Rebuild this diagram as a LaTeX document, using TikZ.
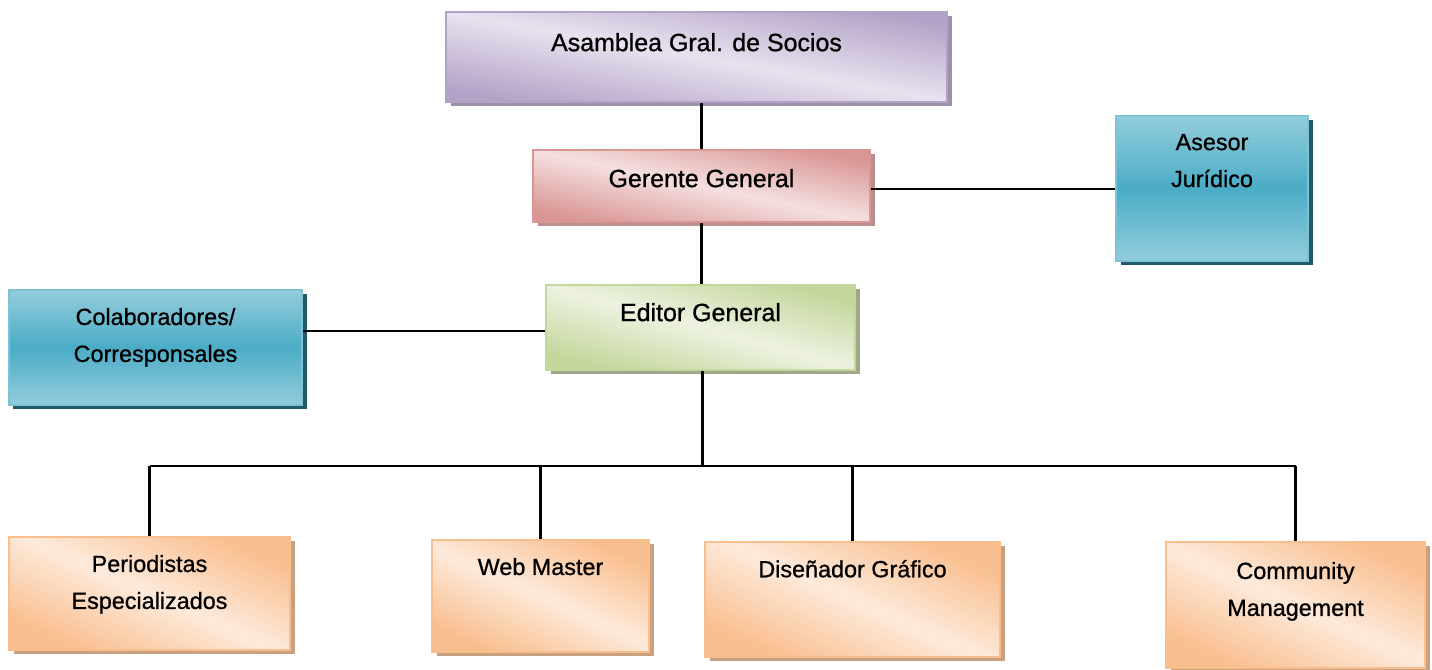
\documentclass[tikz,border=0pt]{standalone}
\usepackage{fontspec}
\setmainfont{Liberation Sans}[FakeBold=0.9]
\usetikzlibrary{shadows}

\definecolor{lilaoscuro}{HTML}{B3A2C7}
\definecolor{lilaclaro}{HTML}{E8E2EF}
\definecolor{lilasombra}{HTML}{9C90AA}
\definecolor{rosaoscuro}{HTML}{D99694}
\definecolor{rosaclaro}{HTML}{F4E0DF}
\definecolor{rosasombra}{HTML}{BC8E8D}
\definecolor{verdeoscuro}{HTML}{C3D69B}
\definecolor{verdeclaro}{HTML}{EDF2E0}
\definecolor{verdesombra}{HTML}{A0A68A}
\definecolor{naranjaoscuro}{HTML}{F9BE8E}
\definecolor{naranjaclaro}{HTML}{FDEADB}
\definecolor{naranjasombra}{HTML}{C9A080}
\definecolor{azulclaro}{HTML}{93CDDD}
\definecolor{azulmedio}{HTML}{4BACC6}
\definecolor{azulsombra}{HTML}{235A6A}

\begin{document}
\begin{tikzpicture}[
  box/.style={rectangle, line width=0.9pt, inner sep=0pt},
  boxtext/.style={anchor=north, align=center, inner sep=0pt, yshift=-0.37cm,
    font=\fontsize{13.3}{21}\selectfont},
  bigtext/.style={boxtext, font=\fontsize{14.2}{21}\selectfont},
  lilabox/.style={box, draw=lilaoscuro, top color=lilaoscuro, bottom color=lilaoscuro,
    middle color=lilaclaro, shading angle=-10,
    general shadow={fill=lilasombra, shadow xshift=0.09cm, shadow yshift=-0.09cm}},
  rosabox/.style={box, draw=rosaoscuro, top color=rosaoscuro, bottom color=rosaoscuro,
    middle color=rosaclaro, shading angle=-12,
    general shadow={fill=rosasombra, shadow xshift=0.09cm, shadow yshift=-0.09cm}},
  verdebox/.style={box, draw=verdeoscuro, top color=verdeoscuro, bottom color=verdeoscuro,
    middle color=verdeclaro, shading angle=-15,
    general shadow={fill=verdesombra, shadow xshift=0.09cm, shadow yshift=-0.09cm}},
  naranjabox/.style={box, draw=naranjaoscuro, top color=naranjaoscuro, bottom color=naranjaoscuro,
    middle color=naranjaclaro, shading angle=-24,
    general shadow={fill=naranjasombra, shadow xshift=0.09cm, shadow yshift=-0.09cm}},
  azulbox/.style={box, draw=azulclaro!70!azulmedio, top color=azulclaro, bottom color=azulclaro,
    middle color=azulmedio,
    general shadow={fill=azulsombra, shadow xshift=0.09cm, shadow yshift=-0.09cm}},
  linea/.style={line width=1.3pt}
]
  \useasboundingbox (0,0) rectangle (28.64,13.4);

  \node[lilabox, minimum width=10.02cm, minimum height=1.8cm,
    label={[bigtext,yshift=-0.06cm]north:Asamblea Gral. de Socios}] (asamblea) at (13.93,12.26) {};
  \node[rosabox, minimum width=6.74cm, minimum height=1.44cm,
    label={[bigtext,yshift=-0.02cm]north:Gerente General}] (gerente) at (14.03,9.68) {};
  \node[azulbox, minimum width=3.84cm, minimum height=2.9cm,
    label={[boxtext]north:Asesor\\Jurídico}] (asesor) at (24.24,9.63) {};
  \node[verdebox, minimum width=6.18cm, minimum height=1.7cm,
    label={[bigtext]north:Editor General}] (editor) at (14.01,6.85) {};
  \node[azulbox, minimum width=5.86cm, minimum height=2.3cm,
    label={[boxtext]north:Colaboradores/\\Corresponsales}] (colaboradores) at (3.11,6.45) {};

  \node[naranjabox, minimum width=5.62cm, minimum height=2.26cm,
    label={[boxtext]north:Periodistas\\Especializados}] (periodistas) at (2.99,1.53) {};
  \node[naranjabox, minimum width=4.34cm, minimum height=2.24cm,
    label={[boxtext]north:Web Master}] (webmaster) at (10.81,1.48) {};
  \node[naranjabox, minimum width=5.9cm, minimum height=2.3cm,
    label={[boxtext]north:Diseñador Gráfico}] (disenador) at (17.05,1.41) {};
  \node[naranjabox, minimum width=5.18cm, minimum height=2.52cm,
    label={[boxtext,yshift=-0.04cm]north:Community\\Management}] (community) at (25.91,1.30) {};

  \coordinate (bus) at (14.05,4.08);

  \draw[linea] (asamblea.south -| gerente.north) -- (gerente.north);
  \draw[linea] (gerente.south) -- (gerente.south |- editor.north);
  \draw[linea] ([yshift=-0.06cm]gerente.east) -- ([yshift=-0.06cm]gerente.east -| asesor.west);
  \draw[linea] ([yshift=-0.07cm]editor.west -| colaboradores.east) -- ([yshift=-0.07cm]editor.west);
  \draw[linea] (editor.south -| bus) -- (bus);
  \draw[linea] (periodistas.north |- bus) -- (community.north |- bus);
  \foreach \n in {periodistas,webmaster,disenador,community}
    \draw[linea] (\n.north) -- (\n.north |- bus);
\end{tikzpicture}
\end{document}
